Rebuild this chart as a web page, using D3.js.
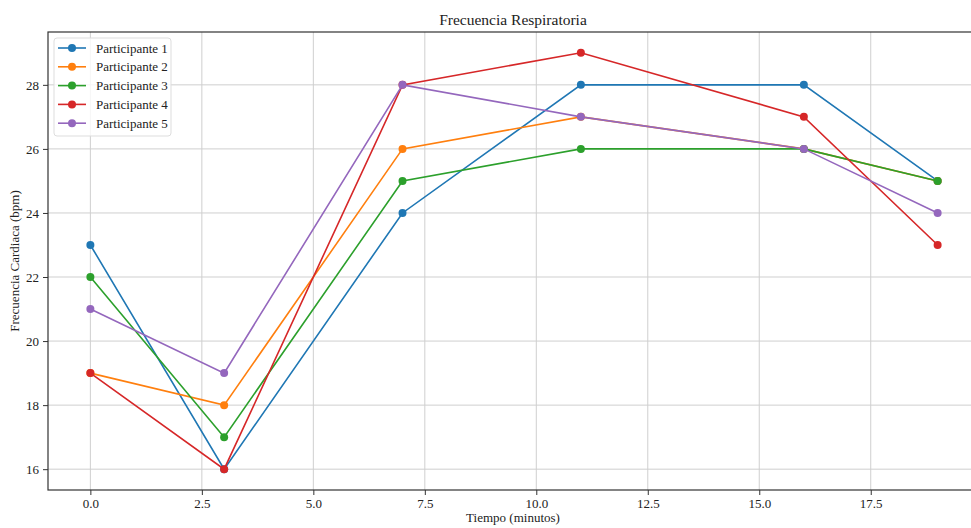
<!DOCTYPE html>
<html>
<head>
<meta charset="utf-8">
<script src="https://cdn.jsdelivr.net/npm/d3@7"></script>
<style>
  body { margin: 0; background: #fff; }
  text { font-family: "Liberation Serif", "DejaVu Serif", serif; fill: #222; }
</style>
</head>
<body>
<script>
// data
var tiempos = [0, 3, 7, 11, 16, 19];
var participante1 = [23, 16, 24, 28, 28, 25];
var participante2 = [19, 18, 26, 27, 26, 25];
var participante3 = [22, 17, 25, 26, 26, 25];
var participante4 = [19, 16, 28, 29, 27, 23];
var participante5 = [21, 19, 28, 27, 26, 24];
var nombres = ["Participante 1", "Participante 2", "Participante 3", "Participante 4", "Participante 5"];
var xTicks = [0, 2.5, 5, 7.5, 10, 12.5, 15, 17.5];
var yTicks = [16, 18, 20, 22, 24, 26, 28];

var colores = ["#1f77b4", "#ff7f0e", "#2ca02c", "#d62728", "#9467bd"];
var series = [participante1, participante2, participante3, participante4, participante5];

var svgWidth = 971, svgHeight = 528;
var margin = { top: 32, left: 48, bottom: 38, right: -9 };
var width = svgWidth - margin.left - margin.right;
var height = svgHeight - margin.top - margin.bottom;

var svg = d3.select("body").append("svg").attr("width", svgWidth).attr("height", svgHeight);
var chartGroup = svg.append("g").attr("transform", `translate(${margin.left}, ${margin.top})`);

var xScale = d3.scaleLinear().domain([-0.95, 19.95]).range([0, width]);
var yScale = d3.scaleLinear().domain([15.35, 29.65]).range([height, 0]);

// grid
chartGroup.append("g").selectAll("line").data(xTicks).enter().append("line")
  .attr("x1", d => xScale(d)).attr("x2", d => xScale(d))
  .attr("y1", 0).attr("y2", height)
  .attr("stroke", "#cfcfcf").attr("stroke-width", 1);
chartGroup.append("g").selectAll("line").data(yTicks).enter().append("line")
  .attr("y1", d => yScale(d)).attr("y2", d => yScale(d))
  .attr("x1", 0).attr("x2", width)
  .attr("stroke", "#cfcfcf").attr("stroke-width", 1);

// axes
var bottomAxis = d3.axisBottom(xScale).tickValues(xTicks).tickFormat(d3.format(".1f")).tickSize(5).tickPadding(4).tickSizeOuter(0);
var leftAxis = d3.axisLeft(yScale).tickValues(yTicks).tickSize(5).tickPadding(4).tickSizeOuter(0);
var xg = chartGroup.append("g").attr("transform", `translate(0, ${height})`).call(bottomAxis);
var yg = chartGroup.append("g").call(leftAxis);
[xg, yg].forEach(function(g) {
  g.select(".domain").remove();
  g.selectAll("line").attr("stroke", "#333");
  g.selectAll("text").attr("font-size", 13).attr("fill", "#333");
});

// spines
chartGroup.append("rect").attr("x", 0).attr("y", 0).attr("width", width).attr("height", height)
  .attr("fill", "none").attr("stroke", "#333").attr("stroke-width", 1.2);

// lines + markers
var line = d3.line().x((d, i) => xScale(tiempos[i])).y(d => yScale(d));
series.forEach(function(vals, k) {
  chartGroup.append("path").datum(vals).attr("d", line)
    .attr("fill", "none").attr("stroke", colores[k]).attr("stroke-width", 1.6);
  chartGroup.append("g").selectAll("circle").data(vals).enter().append("circle")
    .attr("cx", (d, i) => xScale(tiempos[i])).attr("cy", d => yScale(d))
    .attr("r", 4).attr("fill", colores[k]);
});

// legend
var legend = chartGroup.append("g").attr("transform", "translate(6, 6)");
legend.append("rect").attr("width", 117).attr("height", 98).attr("rx", 3)
  .attr("fill", "#fff").attr("fill-opacity", 0.8).attr("stroke", "#ddd");
nombres.forEach(function(n, k) {
  var yy = 10 + k * 18.8;
  legend.append("line").attr("x1", 4).attr("x2", 32).attr("y1", yy).attr("y2", yy)
    .attr("stroke", colores[k]).attr("stroke-width", 1.6);
  legend.append("circle").attr("cx", 18).attr("cy", yy).attr("r", 4).attr("fill", colores[k]);
  legend.append("text").attr("x", 42).attr("y", yy).attr("dy", "0.35em")
    .attr("font-size", 13).attr("fill", "#333").text(n);
});

// title and labels
svg.append("text").attr("x", 513).attr("y", 25).attr("text-anchor", "middle")
  .attr("font-size", 15.5).text("Frecuencia Respiratoria");
svg.append("text").attr("x", 513).attr("y", 522).attr("text-anchor", "middle")
  .attr("font-size", 13).text("Tiempo (minutos)");
svg.append("text").attr("transform", `translate(19, ${margin.top + height / 2}) rotate(-90)`)
  .attr("text-anchor", "middle").attr("font-size", 13).text("Frecuencia Cardiaca (bpm)");
</script>
</body>
</html>
